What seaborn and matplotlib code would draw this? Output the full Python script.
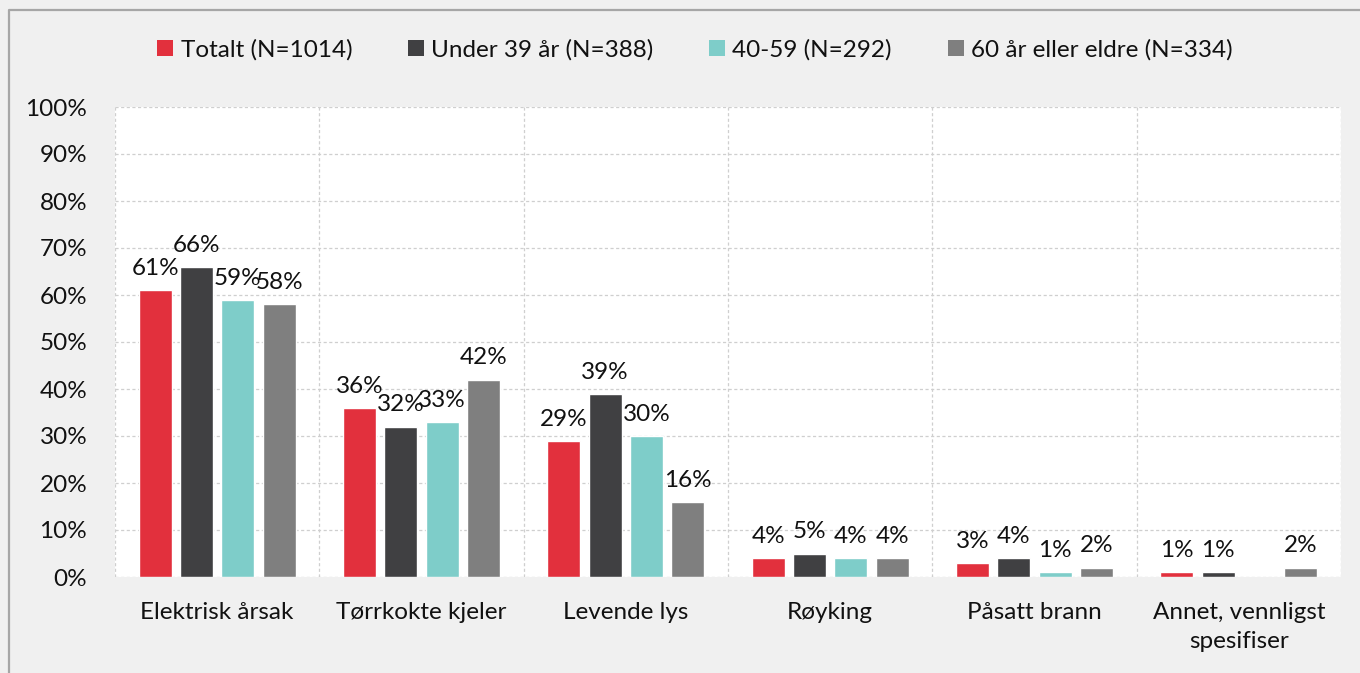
import matplotlib
matplotlib.use("Agg")
import matplotlib.pyplot as plt
import seaborn as sns
import pandas as pd
from matplotlib.lines import Line2D
from matplotlib.patches import Patch

categories = ["Elektrisk årsak", "Tørrkokte kjeler", "Levende lys", "Røyking",
              "Påsatt brann", "Annet, vennligst\nspesifiser"]
series_names = ["Totalt (N=1014)", "Under 39 år (N=388)", "40-59 (N=292)",
                "60 år eller eldre (N=334)"]
totalt = [61, 36, 29, 4, 3, 1]
under39 = [66, 32, 39, 5, 4, 1]
mid4059 = [59, 33, 30, 4, 1, 0]
over60 = [58, 42, 16, 4, 2, 2]
yticks = [0, 10, 20, 30, 40, 50, 60, 70, 80, 90, 100]

colors = ["#E2303D", "#404042", "#7ECDC9", "#7F7F7F"]

rows = []
for name, vals in zip(series_names, [totalt, under39, mid4059, over60]):
    for c, v in zip(categories, vals):
        rows.append({"cat": c, "series": name, "value": v})
df = pd.DataFrame(rows)

sns.set_theme(style="white")
plt.rcParams["font.family"] = ["Lato", "DejaVu Sans"]
FS = 17.5

fig = plt.figure(figsize=(13.6, 6.73), dpi=100, facecolor="#F0F0F0")
ax = fig.add_axes([115/1360, 1-577/673, (1341-115)/1360, (577-107)/673])
ax.set_facecolor("white")

sns.barplot(data=df, x="cat", y="value", hue="series", order=categories,
            hue_order=series_names, palette=colors, saturation=1, width=0.81, gap=0.2,
            edgecolor="white", linewidth=1, ax=ax, legend=False, errorbar=None)

for cont in ax.containers:
    labels = [f"{b.get_height():.0f}%" if b.get_height() > 0 else "" for b in cont]
    ax.bar_label(cont, labels=labels, padding=8, fontsize=FS, color="#111111")

ax.set_ylim(0, 100)
ax.set_xlim(-0.5, len(categories) - 0.5)
ax.set_yticks(yticks)
ax.set_yticklabels([f"{t}%" for t in yticks])
ax.set_xlabel("")
ax.set_ylabel("")
ax.tick_params(axis="y", length=0, pad=20, labelsize=FS, labelcolor="#111111")
ax.tick_params(axis="x", length=0, pad=18, labelsize=FS, labelcolor="#111111")
for lab in ax.get_xticklabels():
    lab.set_linespacing(1.45)

grid_kw = dict(color="#CFCFCF", linewidth=0.9, linestyle=(0, (2.5, 2)), zorder=0)
for t in yticks:
    ax.axhline(t, **grid_kw)
for i in range(len(categories) + 1):
    ax.axvline(i - 0.5, **grid_kw)
for s in ax.spines.values():
    s.set_visible(False)
ax.set_axisbelow(True)

handles = [Patch(facecolor=c, edgecolor="none") for c in colors]
fig.legend(handles, series_names, loc="center", bbox_to_anchor=(695/1360, 1-50/673),
           ncol=4, frameon=False, fontsize=FS, handlelength=0.65, handleheight=0.65,
           handletextpad=0.3, columnspacing=2.3, labelcolor="#111111")

fig.add_artist(Line2D([9/1360, 9/1360, 1.0], [0.0, 1-10/673, 1-10/673],
                      transform=fig.transFigure, color="#A6A6A6", linewidth=1.6))

fig.savefig("out.png", dpi=100, facecolor=fig.get_facecolor())
